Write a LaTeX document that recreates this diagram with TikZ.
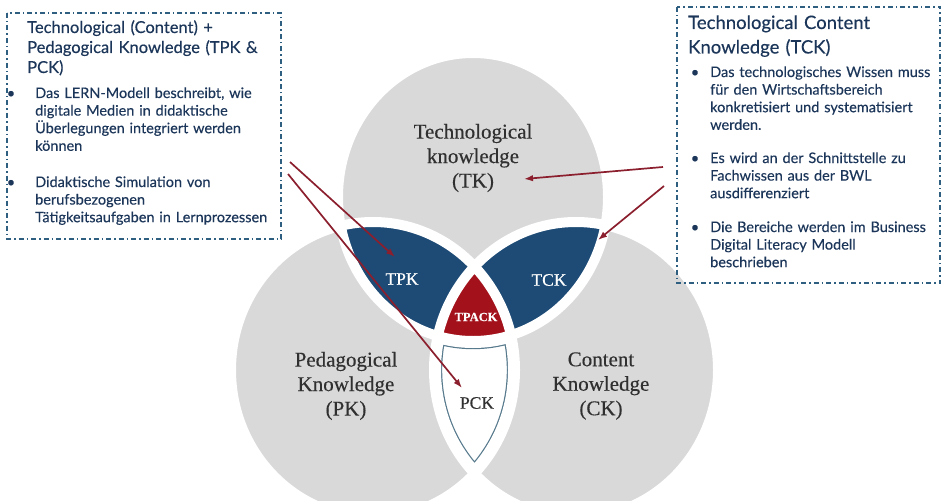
\documentclass[tikz,border=0pt]{standalone}
\usepackage{fontspec}
\usetikzlibrary{arrows.meta}
\newfontfamily\boxfont[FakeBold=0.3]{Lato}
\newfontfamily\labfont[FakeBold=0.35]{Liberation Serif}
\definecolor{venngray}{HTML}{D9D9D9}
\definecolor{vennblue}{HTML}{1D4B75}
\definecolor{vennred}{HTML}{A3121B}
\definecolor{arrowred}{HTML}{8B1F2E}
\definecolor{pckline}{HTML}{56798C}
\definecolor{boxtext}{HTML}{1C365A}
\definecolor{boxline}{HTML}{2E5F80}
\definecolor{labtext}{HTML}{303030}
\def\TKshape{(473,197) ellipse [x radius=135pt, y radius=144pt]}
\def\PKshape{(373,370) ellipse [x radius=142pt, y radius=148pt]}
\def\CKshape{(576,370) ellipse [x radius=142pt, y radius=148pt]}
\tikzset{
  infobox/.style={draw=boxline, line width=1.3pt, dash pattern=on 5pt off 3pt on 1.5pt off 3pt},
  ltitle/.style={text=boxtext, anchor=base west, inner sep=0pt, align=left, text width=300pt, font=\boxfont\fontsize{16.5}{20}\selectfont},
  rtitle/.style={text=boxtext, anchor=base west, inner sep=0pt, align=left, text width=300pt, font=\boxfont\fontsize{18.5}{24.5}\selectfont},
  btext/.style={text=boxtext, anchor=base west, inner sep=0pt, align=left, text width=300pt, font=\boxfont\fontsize{14.5}{17.6}\selectfont},
  bmark/.style={text=boxtext, anchor=base, inner sep=0pt, font=\boxfont\fontsize{14.5}{17.6}\selectfont},
  lab/.style={text=labtext, align=center, inner sep=0pt, font=\labfont\fontsize{21}{24.5}\selectfont},
  seglab/.style={text=white, inner sep=0pt, font=\labfont\fontsize{17.5}{20}\selectfont},
  arrowline/.style={draw=arrowred, line width=1.7pt, -{Latex[length=9pt,width=6.5pt]}}
}
\begin{document}
\begin{tikzpicture}[x=1pt,y=-1pt]
\useasboundingbox (0,0) rectangle (941,500);
\begin{scope}
  \clip (0,0) rectangle (941,500);
  \fill[venngray] \TKshape;
  \fill[venngray] \PKshape;
  \fill[venngray] \CKshape;
  \begin{scope}
    \clip \TKshape;
    \fill[vennblue] \PKshape;
    \fill[vennblue] \CKshape;
  \end{scope}
  \begin{scope}
    \clip \PKshape;
    \clip \CKshape;
    \fill[white] (0,0) rectangle (941,500);
    \draw[pckline, line width=16.4pt] \PKshape \CKshape \TKshape;
    \draw[white, line width=14pt] \PKshape \CKshape \TKshape;
    \clip \TKshape;
    \fill[vennred] (0,0) rectangle (941,500);
  \end{scope}
  \draw[white, line width=10pt] \TKshape \PKshape \CKshape;
\end{scope}

% circle labels
\node[lab] (tk) at (473,158) {Technological\\knowledge\\(TK)};
\node[lab] (pk) at (346,386) {Pedagogical\\Knowledge\\(PK)};
\node[lab] (ck) at (601,386) {Content\\Knowledge\\(CK)};
\node[seglab] (tpk) at (402,279) {TPK};
\node[seglab] (tck) at (549,280) {TCK};
\node[text=white, inner sep=0pt, font=\labfont\bfseries\fontsize{12.5}{14}\selectfont] (tpack) at (476,317) {TPACK};
\node[text=labtext, inner sep=0pt, font=\labfont\fontsize{17.5}{20}\selectfont] (pck) at (477,403) {PCK};

% left box
\draw[infobox] (7,13) rectangle (281,239);
\node[ltitle] (lt) at (27,33) {Technological (Content) +\\Pedagogical Knowledge (TPK \&\\PCK)};
\node[bmark] (lb1) at (11,98) {•};
\node[btext] (lx1) at (35,98) {Das LERN-Modell beschreibt, wie\\digitale Medien in didaktische\\Überlegungen integriert werden\\können};
\node[bmark] (lb2) at (11,187) {•};
\node[btext] (lx2) at (35,187) {Didaktische Simulation von\\berufsbezogenen\\Tätigkeitsaufgaben in Lernprozessen};

% right box
\draw[infobox] (677,7) rectangle (940,283);
\node[rtitle] (rt) at (688,29) {Technological Content\\Knowledge (TCK)};
\node[bmark] (rb1) at (695,77) {•};
\node[btext] (rx1) at (710,77) {Das technologisches Wissen muss\\für den Wirtschaftsbereich\\konkretisiert und systematisiert\\werden.};
\node[bmark] (rb2) at (695,163) {•};
\node[btext] (rx2) at (710,163) {Es wird an der Schnittstelle zu\\Fachwissen aus der BWL\\ausdifferenziert};
\node[bmark] (rb3) at (695,232) {•};
\node[btext] (rx3) at (710,232) {Die Bereiche werden im Business\\Digital Literacy Modell\\beschrieben};

% arrows
\coordinate (a1s) at (290,162);
\coordinate (a1e) at (395,257);
\coordinate (a2s) at (288,174);
\coordinate (a2e) at (462,388);
\coordinate (a3s) at (663,167);
\coordinate (a3e) at (524,179);
\coordinate (a4s) at (664,186);
\coordinate (a4e) at (598,240);
\draw[arrowline] (a1s) -- (a1e);
\draw[arrowline] (a2s) -- (a2e);
\draw[arrowline] (a3s) -- (a3e);
\draw[arrowline] (a4s) -- (a4e);
\end{tikzpicture}
\end{document}
